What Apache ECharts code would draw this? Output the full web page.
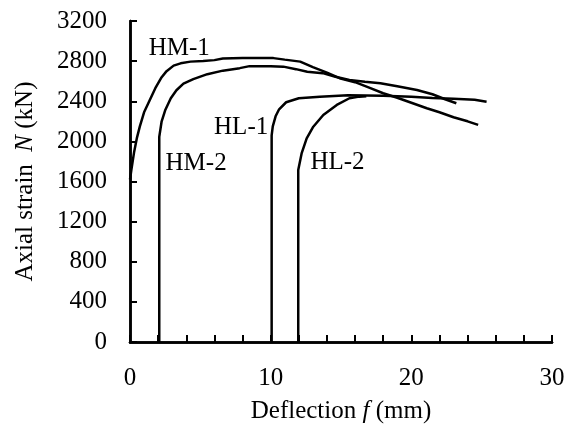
<!DOCTYPE html>
<html>
<head>
<meta charset="utf-8">
<script src="https://cdn.jsdelivr.net/npm/echarts@6/dist/echarts.min.js"></script>
<style>
  * { margin: 0; padding: 0; }
  body { background: #fff; }
  #chart { width: 569px; height: 430px; }
</style>
</head>
<body>
<div id="chart"></div>
<script>
// 曲线数据 [deflection f (mm), N (kN)]
const hm1 = [
  [0, 1620], [0.1, 1720], [0.3, 1900], [0.5, 2040], [0.7, 2150], [1.0, 2290],
  [1.4, 2410], [1.8, 2530], [2.25, 2640], [2.6, 2700], [3.1, 2755], [3.6, 2778],
  [4.3, 2795], [5.2, 2802], [6.0, 2810], [6.6, 2826], [8.0, 2830], [10.2, 2830],
  [11.0, 2815], [12.1, 2795], [13.0, 2740], [14.0, 2685], [14.9, 2630],
  [16.0, 2590], [17.0, 2535], [18.0, 2480], [19.0, 2435], [20.0, 2385],
  [21.1, 2330], [22.0, 2290], [23.0, 2240], [24.0, 2200], [24.75, 2164]
];
const hm2 = [
  [2.08, 0], [2.08, 2045], [2.25, 2200], [2.5, 2310], [2.9, 2430], [3.3, 2510],
  [3.8, 2575], [4.5, 2620], [5.5, 2670], [6.6, 2705], [7.8, 2730], [8.5, 2750],
  [10.0, 2748], [10.9, 2745], [11.8, 2720], [12.6, 2695], [13.7, 2680],
  [14.6, 2645], [15.6, 2612], [16.7, 2595], [17.8, 2580], [19.0, 2550],
  [20.4, 2512], [21.5, 2470], [22.4, 2420], [23.2, 2380]
];
const hl1 = [
  [10.07, 0], [10.07, 2060], [10.15, 2150], [10.35, 2250], [10.6, 2320],
  [11.1, 2390], [12.0, 2430], [13.5, 2445], [15.5, 2460], [18.0, 2455],
  [20.0, 2445], [21.5, 2432], [23.0, 2425], [24.5, 2415], [25.35, 2396]
];
const hl2 = [
  [11.96, 0], [11.96, 1715], [12.2, 1880], [12.56, 2030], [13.03, 2146],
  [13.74, 2263], [14.7, 2363], [15.6, 2430], [16.3, 2446], [16.8, 2450]
];
const seriesNames = ["HM-1", "HM-2", "HL-1", "HL-2"];
const xTicks = [0, 10, 20, 30];

const font = "Liberation Serif";
// 曲线标注位置 (数据坐标)
const labelPos = [[3.5, 2930], [4.7, 1785], [7.9, 2143], [14.75, 1795]];

const chart = echarts.init(document.getElementById("chart"));

const series = [hm1, hm2, hl1, hl2].map((d, i) => ({
  name: seriesNames[i],
  type: "line",
  data: d,
  showSymbol: false,
  lineStyle: { color: "#000", width: 2.5 },
  markPoint: {
    symbol: "circle",
    symbolSize: 0,
    data: [{ coord: labelPos[i] }],
    label: {
      show: true,
      position: "inside",
      formatter: seriesNames[i],
      color: "#000",
      fontFamily: font,
      fontSize: 25
    }
  }
}));

const richName = {
  n: { fontFamily: font, fontSize: 25, color: "#000" },
  i: { fontFamily: font, fontSize: 25, color: "#000", fontStyle: "italic" }
};
const frameLine = { show: true, lineStyle: { color: "#000", width: 2.5 } };

chart.setOption({
  animation: false,
  grid: { left: 130, right: 17, top: 21, bottom: 88 },
  xAxis: [{
    type: "value",
    min: 0, max: 30, interval: 2,
    name: "{n|Deflection }{i|f}{n| (mm)}",
    nameLocation: "middle",
    nameGap: 57,
    nameTextStyle: { rich: richName },
    axisLine: { show: true, lineStyle: { color: "#000", width: 2.5 } },
    axisTick: { show: true, inside: true, length: 7, lineStyle: { color: "#000", width: 2 } },
    axisLabel: {
      margin: 24,
      color: "#000", fontFamily: font, fontSize: 25,
      formatter: v => (xTicks.includes(v) ? String(v) : "")
    },
    splitLine: { show: false }
  }, {
    // 上边框
    type: "value", position: "top", min: 0, max: 30,
    axisLine: frameLine, axisTick: { show: false }, axisLabel: { show: false },
    splitLine: { show: false }
  }],
  yAxis: [{
    type: "value",
    min: 0, max: 3200, interval: 400,
    name: "{n|Axial strain  }{i|N}{n| (kN)}",
    nameLocation: "middle",
    nameRotate: 90,
    nameGap: 92,
    nameTextStyle: { rich: richName },
    axisLine: { show: true, lineStyle: { color: "#000", width: 2.5 } },
    axisTick: { show: true, inside: true, length: 7, lineStyle: { color: "#000", width: 2 } },
    axisLabel: {
      margin: 23, color: "#000", fontFamily: font, fontSize: 25,
      formatter: v => String(v)
    },
    splitLine: { show: false }
  }, {
    // 右边框
    type: "value", position: "right", min: 0, max: 3200,
    axisLine: frameLine, axisTick: { show: false }, axisLabel: { show: false },
    splitLine: { show: false }
  }],
  series: series
});
</script>
</body>
</html>
